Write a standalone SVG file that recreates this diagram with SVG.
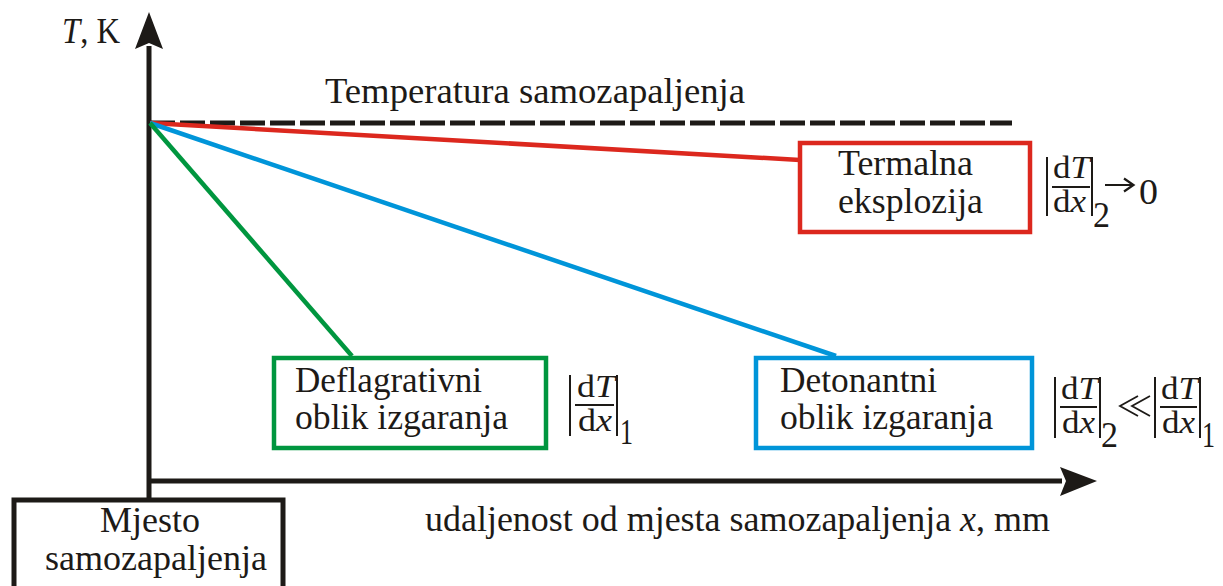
<svg xmlns="http://www.w3.org/2000/svg" width="1223" height="586" viewBox="0 0 1223 586">
<defs>
<style>
.t{font-family:"Liberation Serif","DejaVu Serif",serif;font-size:35px;fill:#1d1a17}
.f{font-family:"Liberation Serif","DejaVu Serif",serif;font-size:31.5px;fill:#1d1a17}
.s{font-family:"Liberation Serif","DejaVu Serif",serif;font-size:35px;fill:#1d1a17}
.bar{stroke:#1d1a17;stroke-width:2;fill:none}
.ax{stroke:#1d1a17;stroke-width:5;fill:none}
.box{fill:#fff;stroke-width:4.5}
</style>
</defs>
<rect width="1223" height="586" fill="#fff"/>

<g id="axes">
<line class="ax" x1="149" y1="500" x2="149" y2="46"/>
<path d="M149,12 L163,49 L149,43 L135,49 Z" fill="#1d1a17"/>
<line class="ax" x1="149" y1="481" x2="1062" y2="481"/>
<path d="M1097,481 L1060,467 L1066,481 L1060,496 Z" fill="#1d1a17"/>
<text class="t" x="62" y="43" textLength="58" lengthAdjust="spacingAndGlyphs"><tspan font-style="italic">T</tspan>, K</text>
<text class="t" x="425" y="531" textLength="625" lengthAdjust="spacingAndGlyphs">udaljenost od mjesta samozapaljenja <tspan font-style="italic">x</tspan>, mm</text>
</g>

<g id="threshold">
<line x1="150" y1="123" x2="1012" y2="123" stroke="#1d1a17" stroke-width="5" stroke-dasharray="25 5"/>
<text class="t" x="325" y="103" textLength="420" lengthAdjust="spacingAndGlyphs">Temperatura samozapaljenja</text>
</g>

<g id="connectors">
<line x1="150" y1="123" x2="800" y2="160" stroke="#dc281e" stroke-width="4.5"/>
<line x1="150" y1="123" x2="836" y2="356" stroke="#0095d9" stroke-width="4.5"/>
<line x1="150" y1="123" x2="352" y2="356" stroke="#00963f" stroke-width="4.5"/>
</g>

<g id="termalna">
<rect class="box" x="800" y="143" width="230" height="89" stroke="#dc281e"/>
<text class="t" x="838" y="175" textLength="135" lengthAdjust="spacingAndGlyphs">Termalna</text>
<text class="t" x="838" y="213" textLength="145" lengthAdjust="spacingAndGlyphs">eksplozija</text>
</g>

<g id="deflagrativni">
<rect class="box" x="274" y="358" width="272" height="90" stroke="#00963f"/>
<text class="t" x="295" y="392" textLength="187" lengthAdjust="spacingAndGlyphs">Deflagrativni</text>
<text class="t" x="295" y="429" textLength="213" lengthAdjust="spacingAndGlyphs">oblik izgaranja</text>
</g>

<g id="detonantni">
<rect class="box" x="756" y="358" width="276" height="90" stroke="#0095d9"/>
<text class="t" x="780" y="392" textLength="157" lengthAdjust="spacingAndGlyphs">Detonantni</text>
<text class="t" x="780" y="429" textLength="213" lengthAdjust="spacingAndGlyphs">oblik izgaranja</text>
</g>

<g id="mjesto">
<rect x="14" y="500" width="269" height="100" fill="#fff" stroke="#1d1a17" stroke-width="5"/>
<text class="t" x="100" y="532" textLength="100" lengthAdjust="spacingAndGlyphs">Mjesto</text>
<text class="t" x="45" y="570" textLength="222" lengthAdjust="spacingAndGlyphs">samozapaljenja</text>
</g>

<g id="formula-top">
<line class="bar" x1="1047" y1="157" x2="1047" y2="216"/>
<text class="f" x="1053" y="178" textLength="37" lengthAdjust="spacingAndGlyphs">d<tspan font-style="italic">T</tspan></text>
<line class="bar" x1="1052" y1="187" x2="1090" y2="187"/>
<text class="f" x="1053" y="212" textLength="33" lengthAdjust="spacingAndGlyphs">d<tspan font-style="italic">x</tspan></text>
<line class="bar" x1="1092" y1="157" x2="1092" y2="216"/>
<text class="s" x="1093" y="227" textLength="17" lengthAdjust="spacingAndGlyphs">2</text>
<path d="M1105,185 L1133,185 M1124,178.5 L1133.5,185 L1124,191.5" stroke="#1d1a17" stroke-width="2.2" fill="none"/>
<text class="s" x="1139" y="204" font-size="45" textLength="19" lengthAdjust="spacingAndGlyphs">0</text>
</g>

<g id="formula-green">
<line class="bar" x1="570" y1="375" x2="570" y2="436"/>
<text class="f" x="577" y="397" textLength="38" lengthAdjust="spacingAndGlyphs">d<tspan font-style="italic">T</tspan></text>
<line class="bar" x1="575" y1="405" x2="614" y2="405"/>
<text class="f" x="578" y="431" textLength="34" lengthAdjust="spacingAndGlyphs">d<tspan font-style="italic">x</tspan></text>
<line class="bar" x1="617" y1="375" x2="617" y2="436"/>
<text class="s" x="620" y="444" textLength="13" lengthAdjust="spacingAndGlyphs">1</text>
</g>

<g id="formula-blue">
<line class="bar" x1="1055" y1="377" x2="1055" y2="438"/>
<text class="f" x="1061" y="399" textLength="37" lengthAdjust="spacingAndGlyphs">d<tspan font-style="italic">T</tspan></text>
<line class="bar" x1="1060" y1="407" x2="1097" y2="407"/>
<text class="f" x="1062" y="433" textLength="33" lengthAdjust="spacingAndGlyphs">d<tspan font-style="italic">x</tspan></text>
<line class="bar" x1="1100" y1="377" x2="1100" y2="438"/>
<text class="s" x="1101" y="447" textLength="17" lengthAdjust="spacingAndGlyphs">2</text>
<path d="M1138,396 L1120,406 L1138,416 M1150,396 L1132,406 L1150,416" stroke="#1d1a17" stroke-width="1.8" fill="none"/>
<line class="bar" x1="1155" y1="377" x2="1155" y2="438"/>
<text class="f" x="1161" y="399" textLength="37" lengthAdjust="spacingAndGlyphs">d<tspan font-style="italic">T</tspan></text>
<line class="bar" x1="1160" y1="407" x2="1197" y2="407"/>
<text class="f" x="1162" y="433" textLength="33" lengthAdjust="spacingAndGlyphs">d<tspan font-style="italic">x</tspan></text>
<line class="bar" x1="1200" y1="377" x2="1200" y2="438"/>
<text class="s" x="1202" y="447" textLength="13" lengthAdjust="spacingAndGlyphs">1</text>
</g>
</svg>
